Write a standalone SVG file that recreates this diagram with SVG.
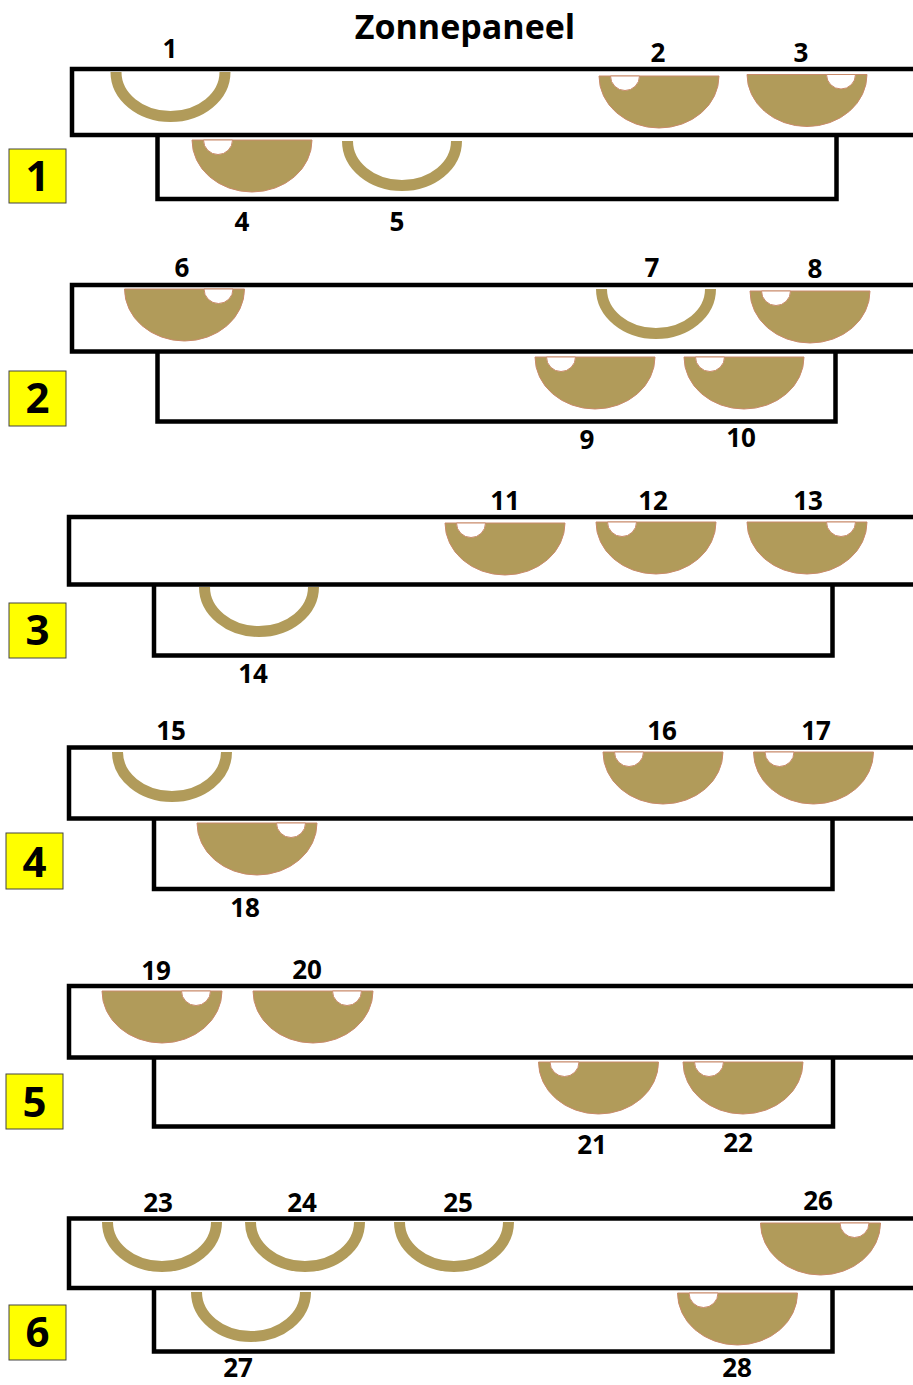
<svg xmlns="http://www.w3.org/2000/svg" width="913" height="1385" viewBox="0 0 913 1385">
<style>
.frame{fill:none;stroke:#000;stroke-width:4.5}
.tag{fill:#ffff00;stroke:#444;stroke-width:1}
.tagt{font-family:"Open Sans","Liberation Sans",sans-serif;font-weight:700;font-size:42px;fill:#000;text-anchor:middle}
.num{font-family:"Open Sans","Liberation Sans",sans-serif;font-weight:700;font-size:26px;fill:#000;text-anchor:middle}
.title{font-family:"Open Sans","Liberation Sans",sans-serif;font-weight:700;font-size:34px;fill:#000;text-anchor:middle}
.body{fill:#b19b5a;stroke:#c98a6a;stroke-width:1}
.hole{fill:#fff;stroke:#c98a6a;stroke-width:1}
.ring{fill:none;stroke:#b19b5a;stroke-width:11}
</style>
<defs>
<g id="fl"><path class="body" d="M-60,0 A60,52 0 0 0 60,0 Z"/><path class="hole" d="M-48.5,0 A14.5,14.5 0 0 0 -19.5,0 Z"/></g>
<g id="fr"><path class="body" d="M-60,0 A60,52 0 0 0 60,0 Z"/><path class="hole" d="M19.5,0 A14.5,14.5 0 0 0 48.5,0 Z"/></g>
<g id="ho"><path class="ring" d="M-54.5,0 A54.5,44.5 0 0 0 54.5,0"/></g>
</defs>
<rect width="913" height="1385" fill="#fff"/>
<text class="title" x="465" y="39">Zonnepaneel</text>

<g id="panel1">
<rect class="frame" x="72" y="69" width="900" height="66"/>
<path class="frame" d="M157.5,135 V199 H836.5 V135"/>
<rect class="tag" x="9" y="149" width="57" height="54"/><text class="tagt" x="37.5" y="191">1</text>
<g id="s1"><use href="#ho" x="170.5" y="72"/><text class="num" x="170" y="58">1</text></g>
<g id="s2"><use href="#fl" x="659" y="76"/><text class="num" x="658" y="62">2</text></g>
<g id="s3"><use href="#fr" x="807" y="74.5"/><text class="num" x="801" y="62">3</text></g>
<g id="s4"><use href="#fl" x="252" y="140"/><text class="num" x="242" y="231">4</text></g>
<g id="s5"><use href="#ho" x="402" y="141"/><text class="num" x="397" y="231">5</text></g>
</g>

<g id="panel2">
<rect class="frame" x="72" y="285" width="900" height="66.5"/>
<path class="frame" d="M157.5,351.5 V421.5 H835.5 V351.5"/>
<rect class="tag" x="9" y="371" width="57" height="55"/><text class="tagt" x="37.5" y="413">2</text>
<g id="s6"><use href="#fr" x="184.5" y="289"/><text class="num" x="182" y="277">6</text></g>
<g id="s7"><use href="#ho" x="656" y="289"/><text class="num" x="652" y="277">7</text></g>
<g id="s8"><use href="#fl" x="810" y="291"/><text class="num" x="815" y="278">8</text></g>
<g id="s9"><use href="#fl" x="595" y="357"/><text class="num" x="587" y="449">9</text></g>
<g id="s10"><use href="#fl" x="744" y="357"/><text class="num" x="741" y="447">10</text></g>
</g>

<g id="panel3">
<rect class="frame" x="69" y="517" width="900" height="67.5"/>
<path class="frame" d="M154,584.5 V655.5 H832.5 V584.5"/>
<rect class="tag" x="9" y="603" width="57" height="55"/><text class="tagt" x="37.5" y="645">3</text>
<g id="s11"><use href="#fl" x="505" y="523"/><text class="num" x="505" y="510">11</text></g>
<g id="s12"><use href="#fl" x="656" y="522"/><text class="num" x="653" y="510">12</text></g>
<g id="s13"><use href="#fr" x="807" y="522"/><text class="num" x="808" y="510">13</text></g>
<g id="s14"><use href="#ho" x="259" y="587"/><text class="num" x="253" y="683">14</text></g>
</g>

<g id="panel4">
<rect class="frame" x="69" y="747.5" width="900" height="71"/>
<path class="frame" d="M154,818.5 V889 H832.5 V818.5"/>
<rect class="tag" x="6" y="833" width="57" height="56"/><text class="tagt" x="34.5" y="877">4</text>
<g id="s15"><use href="#ho" x="172" y="752"/><text class="num" x="171" y="740">15</text></g>
<g id="s16"><use href="#fl" x="663" y="752"/><text class="num" x="662" y="740">16</text></g>
<g id="s17"><use href="#fl" x="813.5" y="752"/><text class="num" x="816" y="740">17</text></g>
<g id="s18"><use href="#fr" x="257" y="823"/><text class="num" x="245" y="917">18</text></g>
</g>

<g id="panel5">
<rect class="frame" x="69" y="986" width="900" height="71.5"/>
<path class="frame" d="M154,1057.5 V1126.5 H833 V1057.5"/>
<rect class="tag" x="6" y="1074" width="57" height="55"/><text class="tagt" x="34.5" y="1117">5</text>
<g id="s19"><use href="#fr" x="162" y="991"/><text class="num" x="156" y="980">19</text></g>
<g id="s20"><use href="#fr" x="313" y="991"/><text class="num" x="307" y="979">20</text></g>
<g id="s21"><use href="#fl" x="598.5" y="1062"/><text class="num" x="592" y="1154">21</text></g>
<g id="s22"><use href="#fl" x="743" y="1062"/><text class="num" x="738" y="1152">22</text></g>
</g>

<g id="panel6">
<rect class="frame" x="69" y="1218.5" width="900" height="69.5"/>
<path class="frame" d="M154,1288 V1351.5 H832.5 V1288"/>
<rect class="tag" x="9" y="1305" width="57" height="55"/><text class="tagt" x="37.5" y="1347">6</text>
<g id="s23"><use href="#ho" x="162" y="1222"/><text class="num" x="158" y="1212">23</text></g>
<g id="s24"><use href="#ho" x="305" y="1222"/><text class="num" x="302" y="1212">24</text></g>
<g id="s25"><use href="#ho" x="454" y="1222"/><text class="num" x="458" y="1212">25</text></g>
<g id="s26"><use href="#fr" x="820.5" y="1223"/><text class="num" x="818" y="1210">26</text></g>
<g id="s27"><use href="#ho" x="251" y="1292"/><text class="num" x="238" y="1377">27</text></g>
<g id="s28"><use href="#fl" x="737.5" y="1293"/><text class="num" x="737" y="1377">28</text></g>
</g>
</svg>
